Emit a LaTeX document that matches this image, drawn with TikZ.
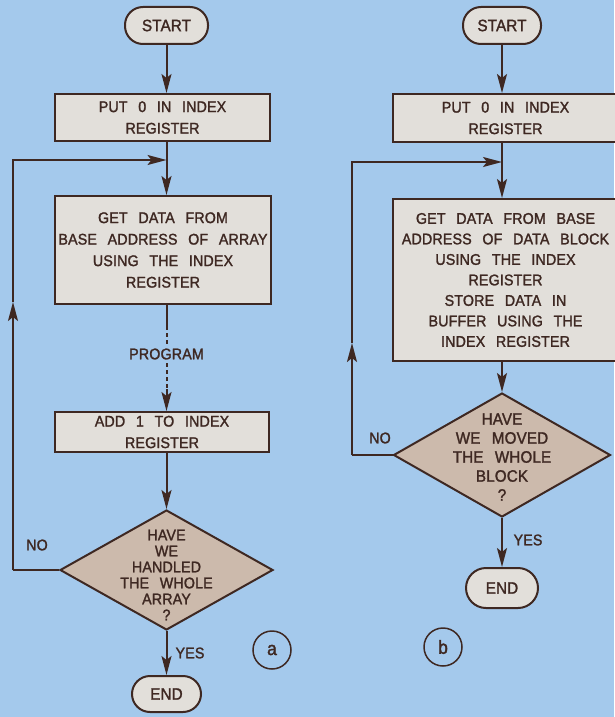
\documentclass[tikz,border=0pt]{standalone}
\usepackage{fontspec}
\setmainfont{Liberation Sans}[WordSpace=2.6, LetterSpace=1, FakeBold=1.6, FakeStretch=0.92]
\usetikzlibrary{arrows.meta,shapes.geometric}
\definecolor{bg}{RGB}{164,201,236}
\definecolor{boxfill}{RGB}{226,223,218}
\definecolor{dfill}{RGB}{204,186,172}
\definecolor{ink}{RGB}{62,40,34}
\tikzset{
  every node/.style={text=ink, font=\fontsize{15.5}{21.5}\selectfont},
  flow/.style={draw=ink, line width=2pt},
  arr/.style={flow, -{Stealth[length=19pt,width=10pt,inset=4pt]}},
  pill/.style={draw=ink, line width=2pt, fill=boxfill, rounded corners=18pt, minimum height=37pt, inner sep=0pt, font=\fontsize{16.5}{20}\selectfont},
  procbox/.style={draw=ink, line width=2pt, fill=boxfill, align=center, inner sep=0pt},
  decision/.style={diamond, draw=ink, line width=2pt, fill=dfill, inner sep=0pt},
  dtext/.style={align=center, font=\fontsize{15.5}{16}\selectfont, text=ink},
  tag/.style={circle, draw=ink, line width=1.5pt, minimum size=38pt, inner sep=0pt, font=\fontsize{19}{20}\selectfont},
  dash2/.style={flow, dash pattern=on 4pt off 3pt},
}
\begin{document}
\begin{tikzpicture}[x=1pt, y=-1pt]
\fill[bg] (0,0) rectangle (614,717);
\useasboundingbox (0,0) rectangle (614,717);

% ---------- chart (a) ----------
\node[pill, minimum width=83pt] (sa) at (166.5,25.5) {START};
\node[procbox, minimum width=215pt, minimum height=47pt] (pa) at (162.5,117.5) {PUT 0 IN INDEX\\REGISTER};
\node[procbox, minimum width=216pt, minimum height=108pt] (ga) at (163,250) {GET DATA FROM\\BASE ADDRESS OF ARRAY\\USING THE INDEX\\REGISTER};
\node (prog) at (166.5,354) {PROGRAM};
\node[procbox, minimum width=214pt, minimum height=40pt] (aa) at (162,432) {ADD 1 TO INDEX\\REGISTER};
\node[decision, minimum width=213pt, minimum height=120pt,
      label={[dtext, yshift=-5pt]center:{HAVE\\WE\\HANDLED\\THE WHOLE\\ARRAY\\?}}] (da) at (166.5,570) {};
\node[pill, minimum width=69pt, minimum height=36pt] (ea) at (166.5,694) {END};
\node (noa) at (37,545) {NO};
\node (yesa) at (190,653) {YES};
\node[tag] (ta) at (272,650) {a};

\coordinate (ja) at (sa.south |- 0,160);
\coordinate (pa1) at (sa.south |- 0,326);
\coordinate (pa2) at (sa.south |- 0,389);
\coordinate (ca) at (13,570);
\coordinate (ma) at (13,302);
\coordinate (ka) at (13,160);

\draw[arr] (sa.south) -- (sa.south |- pa.north);
\draw[arr] (sa.south |- pa.south) -- (sa.south |- ga.north);
\draw[flow] (sa.south |- ga.south) -- (pa1);
\draw[dash2] (pa1) -- (prog.north);
\draw[dash2] (prog.south) -- (pa2);
\draw[arr] (pa2) -- (sa.south |- aa.north);
\draw[arr] (sa.south |- aa.south) -- (da.north);
\draw[arr] (da.south) -- (ea.north);
\draw[flow] (da.west) -- (ca);
\draw[arr] (ca) -- (ma);
\draw[arr] (ma) -- (ka) -- (ja);

% ---------- chart (b) ----------
\node[pill, minimum width=78pt] (sb) at (502,25.5) {START};
\node[procbox, minimum width=225pt, minimum height=48pt] (pb) at (505.5,118) {PUT 0 IN INDEX\\REGISTER};
\node[procbox, minimum width=225pt, minimum height=162pt, font=\fontsize{15.5}{20.5}\selectfont] (gb) at (505.5,280) {GET DATA FROM BASE\\ADDRESS OF DATA BLOCK\\USING THE INDEX\\REGISTER\\STORE DATA IN\\BUFFER USING THE\\INDEX REGISTER};
\node[decision, minimum width=217pt, minimum height=124pt,
      label={[dtext, font=\fontsize{16.5}{19}\selectfont, yshift=-2pt]center:{HAVE\\WE MOVED\\THE WHOLE\\BLOCK\\?}}] (db) at (502,455) {};
\node[pill, minimum width=72pt, minimum height=40pt, rounded corners=20pt] (eb) at (502,588) {END};
\node (nob) at (380,438) {NO};
\node (yesb) at (528,540) {YES};
\node[tag] (tb) at (443,647) {b};

\coordinate (jb) at (sb.south |- 0,162);
\coordinate (cb) at (352,455);
\coordinate (mb) at (352,343);
\coordinate (kb) at (352,162);

\draw[arr] (sb.south) -- (sb.south |- pb.north);
\draw[arr] (sb.south |- pb.south) -- (sb.south |- gb.north);
\draw[arr] (sb.south |- gb.south) -- (db.north);
\draw[arr] (db.south) -- (eb.north);
\draw[flow] (db.west) -- (cb);
\draw[arr] (cb) -- (mb);
\draw[arr] (mb) -- (kb) -- (jb);
\end{tikzpicture}
\end{document}
